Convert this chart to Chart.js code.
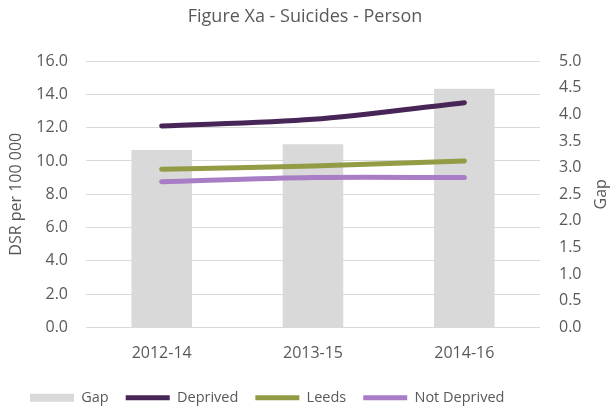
<!DOCTYPE html>
<html>
<head>
<meta charset="utf-8">
<script src="https://cdn.jsdelivr.net/npm/chart.js@4"></script>
<style>
  html, body { margin: 0; padding: 0; background: #fff; }
  #wrap { width: 610px; height: 412px; }
</style>
</head>
<body>
<div id="wrap"><canvas id="chart" width="610" height="412"></canvas></div>
<script>
// values
const periods = ['2012-14', '2013-15', '2014-16'];
const gap = [3.33, 3.44, 4.48];
const deprived = [12.1, 12.5, 13.5];
const leeds = [9.5, 9.7, 10.0];
const notDeprived = [8.75, 9.0, 9.0];

const leftTitle = 'DSR per 100 000';
const rightTitle = 'Gap';

const textGrey = '#595959';
const fontFamily = '"Open Sans", sans-serif';
const tickFont = { family: fontFamily, size: 16 };

// both axis titles read bottom-to-top in the original, so draw them by hand
const axisTitles = {
    id: 'axisTitles',
    afterDraw(chart) {
        const c = chart.ctx;
        const midY = (chart.chartArea.top + chart.chartArea.bottom) / 2;
        c.save();
        c.fillStyle = textGrey;
        c.font = '16px ' + fontFamily;
        c.textAlign = 'center';
        c.textBaseline = 'middle';
        [[16, leftTitle], [chart.width - 9, rightTitle]].forEach(([x, text]) => {
            c.save();
            c.translate(x, midY);
            c.rotate(-Math.PI / 2);
            c.fillText(text, 0, 0);
            c.restore();
        });
        c.restore();
    }
};

const ctx = document.getElementById('chart').getContext('2d');
new Chart(ctx, {
    type: 'bar',
    data: {
        labels: periods,
        datasets: [
            {
                label: 'Gap',
                data: gap,
                yAxisID: 'y1',
                backgroundColor: '#d9d9d9',
                borderWidth: 0,
                categoryPercentage: 1,
                barPercentage: 0.4,
                pointStyle: 'rect',
                order: 2
            },
            {
                type: 'line',
                label: 'Deprived',
                data: deprived,
                yAxisID: 'y',
                borderColor: '#472556',
                backgroundColor: '#472556',
                borderWidth: 5,
                borderCapStyle: 'round',
                pointRadius: 0,
                pointStyle: 'line',
                tension: 0.3,
                order: 1
            },
            {
                type: 'line',
                label: 'Leeds',
                data: leeds,
                yAxisID: 'y',
                borderColor: '#939b45',
                backgroundColor: '#939b45',
                borderWidth: 5,
                borderCapStyle: 'round',
                pointRadius: 0,
                pointStyle: 'line',
                tension: 0.3,
                order: 1
            },
            {
                type: 'line',
                label: 'Not Deprived',
                data: notDeprived,
                yAxisID: 'y',
                borderColor: '#a97cc6',
                backgroundColor: '#a97cc6',
                borderWidth: 5,
                borderCapStyle: 'round',
                pointRadius: 0,
                pointStyle: 'line',
                tension: 0.3,
                order: 1
            }
        ]
    },
    options: {
        responsive: false,
        animation: false,
        layout: { padding: { left: 13, right: 13, top: 0, bottom: -3 } },
        plugins: {
            title: {
                display: true,
                text: 'Figure Xa - Suicides - Person',
                color: textGrey,
                font: { family: fontFamily, size: 18, weight: 'normal' },
                padding: { top: 6, bottom: 33.4 }
            },
            legend: {
                position: 'bottom',
                align: 'start',
                labels: {
                    color: textGrey,
                    font: { family: fontFamily, size: 14.5 },
                    usePointStyle: true,
                    pointStyleWidth: 44,
                    boxHeight: 8,
                    padding: 17,
                    sort: (a, b) => a.datasetIndex - b.datasetIndex
                }
            },
            tooltip: { enabled: false }
        },
        scales: {
            x: {
                grid: { display: false, drawTicks: false },
                border: { display: false },
                ticks: { color: textGrey, font: tickFont, padding: 16 },
                afterFit: s => { s.height = 46; }
            },
            y: {
                position: 'left',
                min: 0,
                max: 16,
                ticks: {
                    stepSize: 2,
                    color: textGrey,
                    font: tickFont,
                    padding: 18,
                    callback: v => v.toFixed(1)
                },
                grid: { color: '#d9d9d9', lineWidth: 1, drawTicks: false },
                border: { display: false },
                afterFit: s => { s.width = 73; }
            },
            y1: {
                position: 'right',
                min: 0,
                max: 5,
                ticks: {
                    stepSize: 0.5,
                    color: textGrey,
                    font: tickFont,
                    padding: 19,
                    callback: v => v.toFixed(1)
                },
                grid: { display: false, drawTicks: false },
                border: { display: false },
                afterFit: s => { s.width = 57; }
            }
        }
    },
    plugins: [axisTitles]
});
</script>
</body>
</html>
